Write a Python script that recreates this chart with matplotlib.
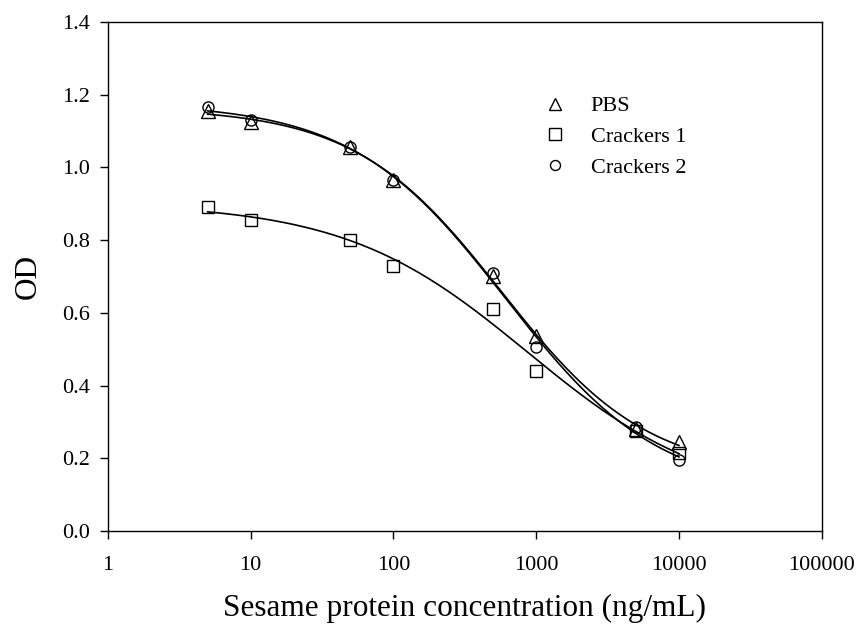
import matplotlib
matplotlib.use("Agg")
import matplotlib.pyplot as plt
import numpy as np

plt.rcParams['font.family'] = ['Liberation Serif', 'DejaVu Serif']

# concentrations (ng/mL)
conc = np.array([5, 10, 50, 100, 500, 1000, 5000, 10000])
# OD readings
od_pbs = np.array([1.155, 1.125, 1.055, 0.965, 0.700, 0.535, 0.280, 0.245])
od_crackers1 = np.array([0.890, 0.855, 0.800, 0.730, 0.610, 0.440, 0.275, 0.215])
od_crackers2 = np.array([1.165, 1.130, 1.055, 0.965, 0.710, 0.505, 0.285, 0.195])

labels = ['PBS', 'Crackers 1', 'Crackers 2']
markers = ['^', 's', 'o']
msizes = [10, 9, 8]


def four_pl(x, p):
    a, b, c, d = p
    return d + (a - d) / (1.0 + (x / c) ** b)


def fit_4pl(x, y):
    # small levenberg-marquardt, log(c) used internally
    p = np.array([y.max() + 0.02, 1.0, np.log(500.0), y.min() - 0.05])
    lam = 1e-2

    def f(q):
        return four_pl(x, [q[0], q[1], np.exp(q[2]), q[3]])

    for _ in range(500):
        r = y - f(p)
        J = np.zeros((len(x), 4))
        for k in range(4):
            dp = np.zeros(4)
            dp[k] = 1e-6
            J[:, k] = (f(p + dp) - f(p)) / 1e-6
        A = J.T @ J
        g = J.T @ r
        step = np.linalg.solve(A + lam * np.diag(np.diag(A) + 1e-9), g)
        new = p + step
        if np.sum((y - f(new)) ** 2) < np.sum(r ** 2):
            p = new
            lam *= 0.5
        else:
            lam *= 4
    return np.array([p[0], p[1], np.exp(p[2]), p[3]])


fig = plt.figure(figsize=(8.56, 6.28), dpi=100)
ax = fig.add_axes([0.126, 0.1545, 0.834, 0.8105])

xs = np.logspace(np.log10(5), np.log10(10000), 300)
for ys, lab, m, ms in zip([od_pbs, od_crackers1, od_crackers2], labels, markers, msizes):
    p = fit_4pl(conc, ys)
    ax.plot(xs, four_pl(xs, p), color='black', lw=1.2)
    ax.plot(conc, ys, linestyle='none', marker=m, markersize=ms,
            markerfacecolor='none', markeredgecolor='black', markeredgewidth=1.0,
            label=lab)

ax.set_xscale('log')
ax.set_xlim(1, 100000)
ax.set_ylim(0, 1.4)
ax.set_xticks([1, 10, 100, 1000, 10000, 100000])
ax.set_xticklabels(['1', '10', '100', '1000', '10000', '100000'])
ax.xaxis.set_minor_locator(matplotlib.ticker.NullLocator())
ax.set_yticks(np.arange(0, 1.41, 0.2))
ax.set_yticklabels(['%.1f' % v for v in np.arange(0, 1.41, 0.2)])
ax.tick_params(direction='out', length=6, width=1, labelsize=16, pad=7)
ax.tick_params(axis='x', pad=12)
for s in ax.spines.values():
    s.set_linewidth(1)

ax.set_xlabel('Sesame protein concentration (ng/mL)', fontsize=22.5, labelpad=14)
ax.set_ylabel('OD', fontsize=22.5, labelpad=14)

leg = ax.legend(loc='upper left', bbox_to_anchor=(0.583, 0.894), frameon=False,
                fontsize=16, markerscale=0.9, handlelength=1.0, handletextpad=1.1,
                labelspacing=0.45)

fig.savefig('out.png', dpi=100)
